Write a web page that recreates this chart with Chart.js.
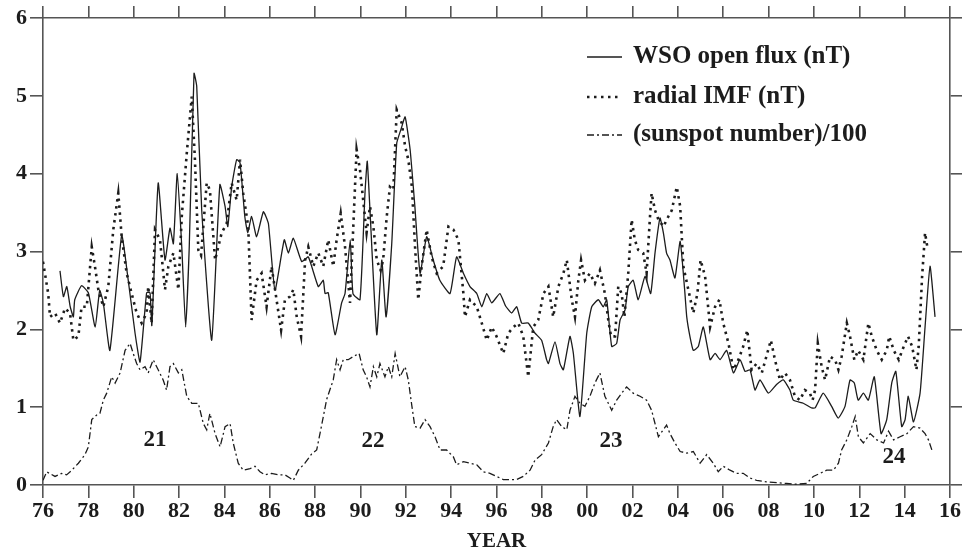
<!DOCTYPE html>
<html>
<head>
<meta charset="utf-8">
<script src="https://cdn.jsdelivr.net/npm/chart.js@4.4.1/dist/chart.umd.min.js"></script>
<style>
  html, body { margin: 0; padding: 0; background: #fff; }
  #wrap { width: 964px; height: 554px; }
</style>
</head>
<body>
<div id="wrap"><canvas id="fluxChart" width="964" height="554"></canvas></div>
<script>
// WSO open flux (nT) - solid
const wsoYear = [1976.75, 1976.9, 1977.05, 1977.2, 1977.34, 1977.4, 1977.7, 1978.0, 1978.3, 1978.5, 1978.66, 1978.95,
  1979.47, 1979.72, 1980.06, 1980.28, 1980.57, 1980.72, 1980.8, 1981.08, 1981.38, 1981.6, 1981.75, 1981.92,
  1982.12, 1982.29, 1982.45, 1982.66, 1982.78, 1983.0, 1983.44, 1983.8, 1984.03, 1984.15, 1984.32, 1984.54,
  1984.69, 1984.9, 1985.03, 1985.2, 1985.42, 1985.72, 1985.94, 1986.23, 1986.64, 1986.82, 1987.04, 1987.41,
  1987.7, 1988.14, 1988.36, 1988.44, 1988.58, 1988.88, 1989.17, 1989.32, 1989.55, 1989.67, 1989.98, 1990.2,
  1990.3, 1990.42, 1990.72, 1990.94, 1991.13, 1991.38, 1991.6, 1991.82, 1991.97, 1992.19, 1992.4, 1992.63,
  1992.92, 1993.21, 1993.5, 1993.95, 1994.24, 1994.54, 1994.83, 1995.13, 1995.35, 1995.57, 1995.79, 1996.15,
  1996.4, 1996.67, 1996.89, 1997.11, 1997.4, 1997.7, 1997.99, 1998.21, 1998.29, 1998.58, 1998.8, 1998.95,
  1999.24, 1999.39, 1999.68, 1999.98, 2000.2, 2000.49, 2000.71, 2000.86, 2001.08, 2001.3, 2001.45, 2001.67,
  2001.81, 2002.03, 2002.25, 2002.55, 2002.8, 2002.99, 2003.21, 2003.36, 2003.5, 2003.65, 2003.87, 2004.1,
  2004.3, 2004.39, 2004.53, 2004.68, 2004.9, 2005.12, 2005.42, 2005.64, 2005.86, 2006.15, 2006.45, 2006.74,
  2006.96, 2007.18, 2007.4, 2007.62, 2007.99, 2008.35, 2008.65, 2008.94, 2009.09, 2009.53, 2009.9, 2010.05,
  2010.41, 2010.78, 2011.07, 2011.37, 2011.59, 2011.78, 2011.95, 2012.18, 2012.4, 2012.66, 2012.96, 2013.21,
  2013.43, 2013.61, 2013.87, 2014.02, 2014.16, 2014.39, 2014.68, 2014.9, 2015.12, 2015.34];
const wsoFlux = [2.75, 2.42, 2.55, 2.29, 2.16, 2.38, 2.56, 2.47, 2.03, 2.5, 2.34, 1.73,
  3.21, 2.72, 1.95, 1.58, 2.47, 2.47, 2.05, 3.88, 2.89, 3.3, 3.1, 4.0,
  3.06, 2.03, 3.06, 5.29, 5.12, 3.53, 1.86, 3.86, 3.58, 3.32, 3.83, 4.18,
  4.14, 3.45, 3.24, 3.45, 3.19, 3.51, 3.36, 2.5, 3.15, 2.98, 3.17, 2.87,
  2.93, 2.55, 2.63, 2.46, 2.47, 1.93, 2.34, 2.46, 3.15, 2.46, 2.38, 3.75,
  4.16, 3.53, 1.93, 2.89, 2.16, 3.1, 4.39, 4.6, 4.73, 4.31, 3.58, 2.72,
  3.19, 2.89, 2.63, 2.46, 2.93, 2.72, 2.55, 2.46, 2.29, 2.46, 2.34, 2.46,
  2.3, 2.21, 2.29, 2.08, 2.08, 1.95, 1.86, 1.61, 1.56, 1.84, 1.56, 1.48,
  1.91, 1.69, 0.88, 1.95, 2.29, 2.38, 2.29, 2.38, 1.78, 1.82, 2.12, 2.25,
  2.55, 2.63, 2.38, 2.68, 2.46, 2.98, 3.43, 3.24, 2.98, 2.89, 2.66, 3.13,
  2.5, 2.16, 1.91, 1.73, 1.78, 2.03, 1.61, 1.69, 1.61, 1.73, 1.44, 1.61,
  1.46, 1.48, 1.22, 1.35, 1.18, 1.29, 1.35, 1.22, 1.09, 1.05, 0.99, 0.99,
  1.18, 1.01, 0.86, 1.01, 1.35, 1.31, 1.09, 1.18, 1.09, 1.39, 0.66, 0.84,
  1.31, 1.46, 0.75, 0.84, 1.14, 0.81, 1.18, 2.03, 2.81, 2.16];

// radial IMF (nT) - dotted
const imfYear = [1976.0, 1976.23, 1976.31, 1976.53, 1976.75, 1976.97, 1977.19, 1977.34, 1977.56, 1977.7, 1977.93,
  1978.15, 1978.29, 1978.44, 1978.66, 1978.88, 1979.1, 1979.32, 1979.47, 1979.69, 1979.91, 1980.13, 1980.35,
  1980.57, 1980.64, 1980.79, 1980.94, 1981.16, 1981.38, 1981.53, 1981.75, 1981.97, 1982.12, 1982.34, 1982.56,
  1982.7, 1982.85, 1982.97, 1983.22, 1983.36, 1983.59, 1983.73, 1983.88, 1984.1, 1984.32, 1984.54, 1984.69,
  1984.83, 1985.05, 1985.2, 1985.42, 1985.64, 1985.86, 1986.08, 1986.3, 1986.5, 1986.67, 1986.89, 1987.04,
  1987.19, 1987.38, 1987.56, 1987.7, 1987.92, 1988.14, 1988.36, 1988.58, 1988.8, 1988.95, 1989.13, 1989.32,
  1989.54, 1989.83, 1989.98, 1990.12, 1990.27, 1990.42, 1990.57, 1990.72, 1990.89, 1991.0, 1991.16, 1991.3,
  1991.45, 1991.6, 1991.82, 1991.97, 1992.11, 1992.27, 1992.4, 1992.55, 1992.7, 1992.92, 1993.14, 1993.36,
  1993.65, 1993.88, 1994.1, 1994.32, 1994.54, 1994.61, 1994.83, 1995.13, 1995.35, 1995.57, 1995.79, 1996.0,
  1996.3, 1996.52, 1996.75, 1996.96, 1997.18, 1997.4, 1997.62, 1997.84, 1998.07, 1998.29, 1998.5, 1998.73,
  1998.95, 1999.1, 1999.32, 1999.46, 1999.61, 1999.73, 1999.9, 2000.12, 2000.34, 2000.56, 2000.78, 2000.93,
  2001.05, 2001.23, 2001.37, 2001.52, 2001.64, 2001.81, 2001.96, 2002.1, 2002.25, 2002.47, 2002.62, 2002.77,
  2002.84, 2002.99, 2003.14, 2003.36, 2003.58, 2003.73, 2003.95, 2004.1, 2004.24, 2004.46, 2004.68, 2004.86,
  2005.0, 2005.2, 2005.42, 2005.64, 2005.83, 2006.0, 2006.23, 2006.45, 2006.67, 2006.88, 2007.06, 2007.25,
  2007.47, 2007.7, 2007.9, 2008.1, 2008.28, 2008.5, 2008.72, 2008.94, 2009.16, 2009.38, 2009.6, 2009.82,
  2009.94, 2010.05, 2010.17, 2010.34, 2010.49, 2010.71, 2010.93, 2011.08, 2011.22, 2011.45, 2011.59, 2011.78,
  2011.95, 2012.18, 2012.4, 2012.55, 2012.77, 2012.99, 2013.21, 2013.32, 2013.52, 2013.74, 2013.96, 2014.15,
  2014.33, 2014.52, 2014.62, 2014.77, 2014.9, 2015.0];
const imfRadial = [2.87, 2.46, 2.16, 2.21, 2.08, 2.27, 2.21, 1.86, 1.91, 2.29, 2.29,
  3.06, 2.81, 2.51, 2.29, 2.55, 3.28, 3.75, 3.19, 2.72, 2.46, 2.21, 2.08,
  2.21, 2.55, 2.08, 3.28, 3.15, 2.51, 2.81, 2.98, 2.51, 3.45, 4.26, 4.99,
  4.18, 3.02, 2.95, 3.88, 3.79, 2.89, 3.06, 3.24, 3.36, 3.88, 3.66, 4.18,
  3.75, 3.32, 2.12, 2.63, 2.72, 2.29, 2.81, 2.38, 1.99, 2.38, 2.42, 2.51,
  2.16, 1.91, 2.89, 3.06, 2.81, 2.98, 2.81, 3.15, 2.81, 3.15, 3.49, 3.06,
  2.34, 4.31, 4.05, 3.66, 3.24, 3.58, 3.32, 2.89, 2.76, 2.89, 3.45, 3.83,
  3.79, 4.82, 4.65, 4.35, 4.18, 3.83, 3.1, 2.38, 2.81, 3.28, 2.93, 2.72,
  2.81, 3.32, 3.28, 3.15, 2.46, 2.16, 2.38, 2.29, 2.08, 1.86, 2.03, 1.91,
  1.69, 1.95, 2.03, 2.08, 1.91, 1.39, 2.03, 2.12, 2.46, 2.55, 2.16, 2.55,
  2.72, 2.89, 2.38, 2.16, 2.63, 2.89, 2.63, 2.72, 2.59, 2.76, 2.46, 2.12,
  1.91, 1.91, 2.55, 2.46, 2.16, 2.72, 3.41, 3.15, 3.02, 2.98, 2.72, 3.45,
  3.75, 3.53, 3.41, 3.32, 3.45, 3.53, 3.83, 3.58, 2.81, 2.51, 2.21, 2.46,
  2.89, 2.68, 2.03, 2.29, 2.38, 2.08, 1.82, 1.48, 1.61, 1.78, 1.99, 1.48,
  1.56, 1.44, 1.65, 1.86, 1.61, 1.35, 1.44, 1.35, 1.14, 1.09, 1.22, 1.18,
  1.09, 1.22, 1.82, 1.52, 1.35, 1.65, 1.61, 1.48, 1.65, 2.08, 1.91, 1.61,
  1.73, 1.61, 2.08, 1.91, 1.73, 1.61, 1.73, 1.91, 1.73, 1.61, 1.78, 1.91,
  1.78, 1.48, 1.78, 2.68, 3.24, 3.06];

// (sunspot number)/100 - dash-dot
const sunYear = [1976.0, 1976.16, 1976.53, 1976.82, 1977.04, 1977.27, 1977.56, 1977.85, 1978.0, 1978.15, 1978.37,
  1978.51, 1978.66, 1978.81, 1979.03, 1979.18, 1979.4, 1979.62, 1979.84, 1979.98, 1980.13, 1980.28, 1980.5,
  1980.64, 1980.86, 1981.08, 1981.3, 1981.45, 1981.6, 1981.75, 1981.97, 1982.12, 1982.34, 1982.56, 1982.85,
  1983.07, 1983.22, 1983.36, 1983.59, 1983.81, 1984.03, 1984.25, 1984.39, 1984.61, 1984.83, 1985.13, 1985.35,
  1985.57, 1985.79, 1986.08, 1986.38, 1986.67, 1986.89, 1987.04, 1987.26, 1987.55, 1987.85, 1988.07, 1988.29,
  1988.51, 1988.8, 1988.95, 1989.1, 1989.24, 1989.46, 1989.68, 1989.94, 1990.12, 1990.27, 1990.42, 1990.57,
  1990.72, 1990.86, 1991.08, 1991.23, 1991.38, 1991.53, 1991.74, 1991.97, 1992.11, 1992.27, 1992.4, 1992.63,
  1992.85, 1993.07, 1993.29, 1993.51, 1993.8, 1994.1, 1994.24, 1994.54, 1994.83, 1995.13, 1995.42, 1995.71,
  1996.0, 1996.3, 1996.6, 1996.89, 1997.18, 1997.48, 1997.7, 1997.99, 1998.29, 1998.5, 1998.65, 1998.88,
  1999.1, 1999.24, 1999.46, 1999.68, 1999.9, 2000.12, 2000.34, 2000.56, 2000.78, 2001.08, 2001.3, 2001.52,
  2001.74, 2002.03, 2002.33, 2002.62, 2002.84, 2002.99, 2003.14, 2003.5, 2003.65, 2003.87, 2004.1, 2004.39,
  2004.68, 2004.98, 2005.27, 2005.56, 2005.78, 2006.0, 2006.3, 2006.59, 2006.88, 2007.18, 2007.47, 2007.91,
  2008.35, 2008.79, 2009.23, 2009.68, 2009.97, 2010.27, 2010.56, 2010.86, 2011.08, 2011.22, 2011.45, 2011.67,
  2011.82, 2011.96, 2012.18, 2012.48, 2012.77, 2013.07, 2013.29, 2013.51, 2013.8, 2014.1, 2014.39, 2014.68,
  2014.9, 2015.05, 2015.2];
const sunNumber = [0.06, 0.17, 0.11, 0.15, 0.13, 0.19, 0.28, 0.39, 0.49, 0.84, 0.9,
  0.92, 1.09, 1.18, 1.39, 1.31, 1.44, 1.73, 1.82, 1.69, 1.56, 1.48, 1.52,
  1.44, 1.61, 1.48, 1.35, 1.22, 1.52, 1.56, 1.44, 1.48, 1.14, 1.05, 1.05,
  0.79, 0.71, 0.92, 0.66, 0.49, 0.75, 0.79, 0.54, 0.28, 0.19, 0.21, 0.24,
  0.17, 0.13, 0.15, 0.13, 0.13, 0.09, 0.06, 0.19, 0.28, 0.4, 0.45, 0.77,
  1.1, 1.35, 1.61, 1.48, 1.61, 1.61, 1.65, 1.69, 1.48, 1.39, 1.26, 1.52,
  1.39, 1.56, 1.39, 1.52, 1.39, 1.69, 1.39, 1.52, 1.35, 1.01, 0.75, 0.73,
  0.84, 0.75, 0.62, 0.45, 0.45, 0.36, 0.26, 0.3, 0.28, 0.26, 0.17, 0.15,
  0.11, 0.07, 0.07, 0.07, 0.11, 0.19, 0.32, 0.39, 0.54, 0.75, 0.84, 0.75,
  0.71, 0.96, 1.14, 1.05, 1.01, 1.14, 1.31, 1.44, 1.14, 0.96, 1.09, 1.18,
  1.26, 1.18, 1.14, 1.09, 0.96, 0.79, 0.62, 0.77, 0.66, 0.54, 0.43, 0.41,
  0.43, 0.28, 0.39, 0.28, 0.17, 0.24, 0.19, 0.15, 0.15, 0.09, 0.06, 0.04,
  0.03, 0.02, 0.01, 0.02, 0.11, 0.15, 0.19, 0.19, 0.28, 0.45, 0.58, 0.75,
  0.88, 0.62, 0.54, 0.66, 0.58, 0.54, 0.69, 0.58, 0.62, 0.66, 0.75, 0.73,
  0.66, 0.58, 0.45];

// 軸・ラベル
const xTickYears = [1976, 2016];
const yRange = [0, 6];
const seriesNames = ['WSO open flux (nT)', 'radial IMF (nT)', '(sunspot number)/100'];
const cycleNames = ['21', '22', '23', '24'];
const cycleYears = [1980.94, 1990.55, 2001.05, 2013.53];
const cycleLevels = [0.58, 0.57, 0.57, 0.36];

const FONT = '"Liberation Serif", "Times New Roman", serif';
const INK = '#1c1c1c';
const AXIS = '#555';

function toPoints(xs, ys) {
    return xs.map((x, i) => ({ x: x, y: ys[i] }));
}

// 凡例（グラフ内右上）
const legendPlugin = {
    id: 'innerLegend',
    afterDatasetsDraw(chart) {
        const ctx = chart.ctx;
        const area = chart.chartArea;
        const x0 = area.left + 544;
        const rows = [57, 97, 135];
        ctx.save();
        chart.data.datasets.forEach((ds, i) => {
            const y = rows[i];
            ctx.beginPath();
            ctx.strokeStyle = ds.borderColor;
            ctx.lineWidth = ds.borderWidth;
            ctx.setLineDash(ds.borderDash || []);
            ctx.moveTo(x0, y);
            ctx.lineTo(x0 + 35, y);
            ctx.stroke();
            ctx.setLineDash([]);
            ctx.fillStyle = INK;
            ctx.font = 'bold 25px ' + FONT;
            ctx.textBaseline = 'middle';
            ctx.textAlign = 'left';
            ctx.fillText(ds.label, x0 + 46, y);
        });
        ctx.restore();
    }
};

// 太陽周期番号
const cyclePlugin = {
    id: 'cycleLabels',
    afterDatasetsDraw(chart) {
        const ctx = chart.ctx;
        const xs = chart.scales.x;
        const ys = chart.scales.y;
        ctx.save();
        ctx.fillStyle = INK;
        ctx.font = 'bold 23px ' + FONT;
        ctx.textAlign = 'center';
        ctx.textBaseline = 'middle';
        cycleNames.forEach((name, i) => {
            ctx.fillText(name, xs.getPixelForValue(cycleYears[i]), ys.getPixelForValue(cycleLevels[i]));
        });
        ctx.restore();
    }
};

const ctx = document.getElementById('fluxChart').getContext('2d');

const fluxChart = new Chart(ctx, {
    type: 'line',
    data: {
        datasets: [
            {
                label: seriesNames[0],
                data: toPoints(wsoYear, wsoFlux),
                borderColor: INK,
                borderWidth: 1.3,
                pointRadius: 0,
                tension: 0.15,
                xAxisID: 'x',
                yAxisID: 'y'
            },
            {
                label: seriesNames[1],
                data: toPoints(imfYear, imfRadial),
                borderColor: INK,
                borderWidth: 2.6,
                borderDash: [2.5, 4.5],
                pointRadius: 0,
                tension: 0,
                xAxisID: 'x',
                yAxisID: 'y'
            },
            {
                label: seriesNames[2],
                data: toPoints(sunYear, sunNumber),
                borderColor: INK,
                borderWidth: 1.3,
                borderDash: [7, 3, 2, 3],
                pointRadius: 0,
                tension: 0,
                xAxisID: 'x',
                yAxisID: 'y'
            }
        ]
    },
    options: {
        responsive: false,
        animation: false,
        layout: { padding: 0 },
        plugins: {
            legend: { display: false },
            tooltip: { enabled: false }
        },
        scales: {
            x: {
                type: 'linear',
                position: 'bottom',
                min: xTickYears[0],
                max: xTickYears[1],
                afterFit: (s) => { s.height = 69; },
                border: { display: true, color: AXIS, width: 1.6 },
                grid: { drawOnChartArea: false, drawTicks: true, tickLength: 13, color: AXIS, lineWidth: 1.6 },
                ticks: {
                    stepSize: 2,
                    padding: 0,
                    color: INK,
                    maxRotation: 0,
                    font: { family: FONT, size: 22, weight: 'bold' },
                    callback: (v) => String(v % 100).padStart(2, '0')
                },
                title: {
                    display: true,
                    text: 'YEAR',
                    color: INK,
                    font: { family: FONT, size: 21, weight: 'bold' },
                    padding: { top: 0, bottom: 0 }
                }
            },
            x2: {
                type: 'linear',
                position: 'top',
                min: xTickYears[0],
                max: xTickYears[1],
                afterFit: (s) => { s.height = 18; },
                border: { display: true, color: AXIS, width: 1.6 },
                grid: { drawOnChartArea: false, drawTicks: true, tickLength: 12, color: AXIS, lineWidth: 1.6 },
                ticks: { stepSize: 2, display: false }
            },
            y: {
                position: 'left',
                min: yRange[0],
                max: yRange[1],
                afterFit: (s) => { s.width = 43; },
                border: { display: true, color: AXIS, width: 1.6 },
                grid: { drawOnChartArea: false, drawTicks: true, tickLength: 13, color: AXIS, lineWidth: 1.6 },
                ticks: {
                    stepSize: 1,
                    padding: 3,
                    color: INK,
                    font: { family: FONT, size: 22, weight: 'bold' }
                }
            },
            y2: {
                position: 'right',
                min: yRange[0],
                max: yRange[1],
                afterFit: (s) => { s.width = 14; },
                border: { display: true, color: AXIS, width: 1.6 },
                grid: { drawOnChartArea: false, drawTicks: true, tickLength: 12, color: AXIS, lineWidth: 1.6 },
                ticks: { stepSize: 1, display: false }
            }
        }
    },
    plugins: [legendPlugin, cyclePlugin]
});
</script>
</body>
</html>
